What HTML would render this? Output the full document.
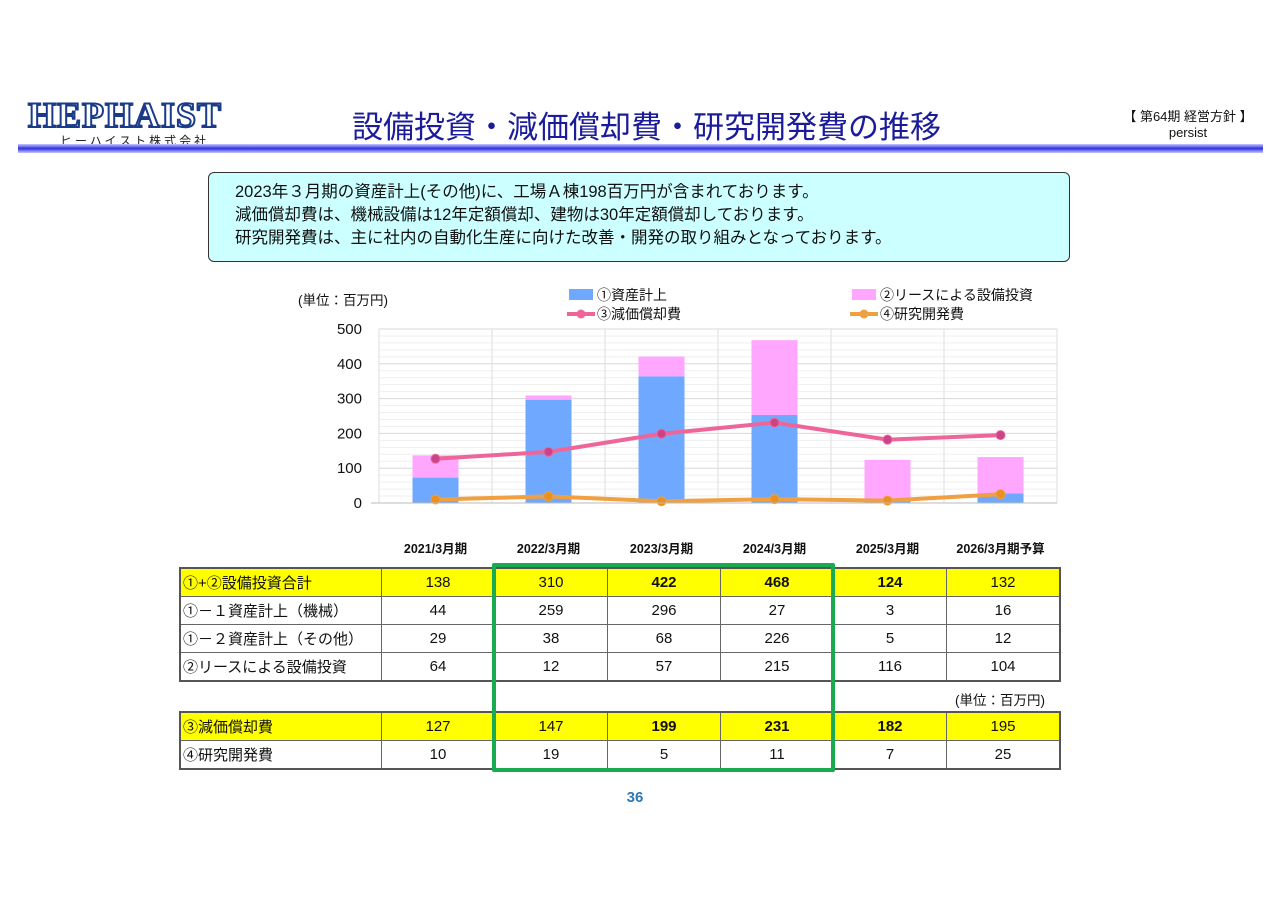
<!DOCTYPE html>
<html><head><meta charset="utf-8">
<style>
body{margin:0;width:1280px;height:905px;background:#fff;position:relative;overflow:hidden;font-family:"Liberation Sans","Noto Sans CJK JP",sans-serif;}
.abs{position:absolute;}
table{border-collapse:collapse;position:absolute;left:179px;font-size:15px;color:#111;border:2px solid #555;}
td{border:1px solid #666;height:27px;padding:0;text-align:center;width:112px;}
td.l{width:198px;text-align:left;padding-left:2px;}
tr.y td{background:#ffff00;}
b{font-weight:bold;}
</style></head><body>
<div class="abs" style="left:28px;top:98px;width:220px;">
 <div style="font-family:'Liberation Serif',serif;font-weight:bold;font-size:36px;color:#fff;-webkit-text-stroke:2px #1a3a8a;letter-spacing:1px;line-height:34px;">HEPHAIST</div>
 <div style="font-size:12px;color:#222;letter-spacing:3px;margin-left:32px;">ヒーハイスト株式会社</div>
</div>
<div class="abs" style="left:352px;top:102px;font-size:31px;color:#1c1c9a;">設備投資・減価償却費・研究開発費の推移</div>
<div class="abs" style="left:1118px;top:106px;font-size:13px;color:#111;text-align:center;width:140px;">【 第64期 経営方針 】<br>persist</div>
<div class="abs" style="left:18px;top:144px;width:1245px;height:9px;background:linear-gradient(#c8c8ff,#3030e0,#c8c8ff);"></div>
<div class="abs" style="left:208px;top:172px;width:862px;height:90px;background:#ccffff;border:1px solid #333;border-radius:6px;box-sizing:border-box;padding:8px 0 0 26px;font-size:16.5px;line-height:23px;color:#111;">2023年３月期の資産計上(その他)に、工場Ａ棟198百万円が含まれております。<br>減価償却費は、機械設備は12年定額償却、建物は30年定額償却しております。<br>研究開発費は、主に社内の自動化生産に向けた改善・開発の取り組みとなっております。</div>

<svg class="abs" style="left:0;top:0" width="1280" height="560" id="chart"></svg>
<script>
const categories=["2021/3月期","2022/3月期","2023/3月期","2024/3月期","2025/3月期","2026/3月期予算"];
const assetVals=[73,297,364,253,8,28];
const leaseVals=[64,12,57,215,116,104];
const deprVals=[127,147,199,231,182,195];
const rdVals=[10,19,5,11,7,25];
const yTicks=[0,100,200,300,400,500];
const NS="http://www.w3.org/2000/svg";
const svg=document.getElementById('chart');
const X0=379,X1=1057,Y0=503,Y1=329;
const bw=(X1-X0)/categories.length;
const xc=i=>X0+bw*(i+0.5);
const y=v=>Y0-(v/500)*(Y0-Y1);
function mk(t,a){const e=document.createElementNS(NS,t);for(const k in a)e.setAttribute(k,a[k]);svg.appendChild(e);return e;}
for(let v=0;v<=500;v+=20){const g=mk('line',{x1:X0,x2:X1,y1:y(v),y2:y(v),stroke:v%100==0?'#d8d8d8':'#efefef','stroke-width':1});}
for(let i=0;i<=categories.length;i++){const g=mk('line',{x1:X0+bw*i,x2:X0+bw*i,y1:Y1,y2:Y0,stroke:'#dedede'});}
yTicks.forEach(v=>{const t=mk('text',{x:362,y:y(v)+5,'text-anchor':'end','font-size':15,fill:'#111'});t.textContent=v;});
categories.forEach((c,i)=>{
 const a=mk('rect',{x:xc(i)-23,width:46,y:y(assetVals[i]),height:Y0-y(assetVals[i]),fill:'#6fa8ff'});
 
 const l=mk('rect',{x:xc(i)-23,width:46,y:y(assetVals[i]+leaseVals[i]),height:y(assetVals[i])-y(assetVals[i]+leaseVals[i]),fill:'#ffa6ff'});
 
 const t=mk('text',{x:xc(i),y:553,'text-anchor':'middle','font-size':12.5,'font-weight':'bold',fill:'#111'});t.textContent=c;
 
});
function line(vals,col,dot,name){
 const p=mk('polyline',{points:vals.map((v,i)=>xc(i)+','+y(v)).join(' '),fill:'none',stroke:col,'stroke-width':4});
 
 vals.forEach((v,i)=>{const c=mk('circle',{cx:xc(i),cy:y(v),r:4.5,fill:dot,stroke:col});});
}
line(deprVals,'#ee6699','#cc4488','depreciation');
line(rdVals,'#f0a040','#e89020','rnd');
mk('line',{x1:X0-8,x2:X1,y1:Y0,y2:Y0,stroke:'#bbb'});
const u=mk('text',{x:298,y:305,'font-size':13.5,fill:'#111'});u.textContent='(単位：百万円)';
function leg(x,yy,kind,col,label){
 if(kind=='r'){const r=mk('rect',{x:x,y:yy-6,width:24,height:11,fill:col});}
 else{mk('line',{x1:x-2,x2:x+26,y1:yy,y2:yy,stroke:col,'stroke-width':4});mk('circle',{cx:x+12,cy:yy,r:4.5,fill:col});}
 const t=mk('text',{x:x+28,y:yy+5,'font-size':14,fill:'#111'});t.textContent=label;
}
leg(569,295,'r','#6fa8ff','①資産計上');
leg(852,295,'r','#ffa6ff','②リースによる設備投資');
leg(569,314,'l','#ee6699','③減価償却費');
leg(852,314,'l','#f0a040','④研究開発費');
</script>

<table style="top:567px">
<tr class="y"><td class="l">①+②設備投資合計</td><td>138</td><td>310</td><td><b>422</b></td><td><b>468</b></td><td><b>124</b></td><td>132</td></tr>
<tr><td class="l">①－１資産計上（機械）</td><td>44</td><td>259</td><td>296</td><td>27</td><td>3</td><td>16</td></tr>
<tr><td class="l">①－２資産計上（その他）</td><td>29</td><td>38</td><td>68</td><td>226</td><td>5</td><td>12</td></tr>
<tr><td class="l">②リースによる設備投資</td><td>64</td><td>12</td><td>57</td><td>215</td><td>116</td><td>104</td></tr>
</table>
<div class="abs" style="left:955px;top:689px;font-size:13.5px;color:#111;">(単位：百万円)</div>
<table style="top:711px">
<tr class="y"><td class="l">③減価償却費</td><td>127</td><td>147</td><td><b>199</b></td><td><b>231</b></td><td><b>182</b></td><td>195</td></tr>
<tr><td class="l">④研究開発費</td><td>10</td><td>19</td><td>5</td><td>11</td><td>7</td><td>25</td></tr>
</table>
<div class="abs" style="left:492px;top:563px;width:343px;height:209px;border:4px solid #1aaa50;box-sizing:border-box;border-radius:2px;"></div>
<div class="abs" style="left:610px;top:789px;width:50px;text-align:center;font-size:15px;font-weight:bold;color:#2a7ab8;">36</div>
</body></html>
